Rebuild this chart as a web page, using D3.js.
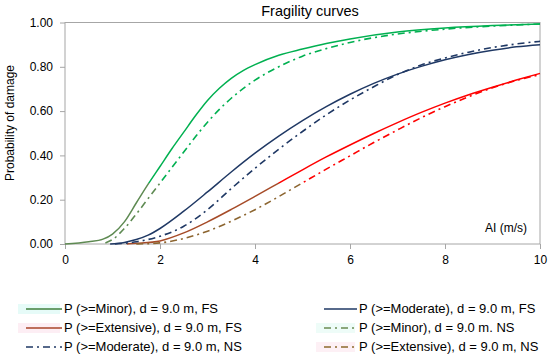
<!DOCTYPE html>
<html>
<head>
<meta charset="utf-8">
<script src="https://cdn.jsdelivr.net/npm/d3@7"></script>
<style>
  body { margin: 0; background: #fff; }
  svg { font-family: 'Liberation Sans', Arial, sans-serif; }
</style>
</head>
<body>
<svg width="550" height="363"></svg>
<script>
// values
const minorFS_x = [0, 0.5, 0.8, 1, 1.25, 1.5, 1.75, 2, 2.25, 2.5, 2.75, 3, 3.25, 3.5, 3.75, 4, 4.5, 5, 5.5, 6, 7, 8, 9, 10]
const minorFS_p = [0, 0.01, 0.022, 0.045, 0.1, 0.185, 0.27, 0.35, 0.43, 0.505, 0.58, 0.648, 0.703, 0.748, 0.783, 0.81, 0.852, 0.88, 0.905, 0.926, 0.957, 0.975, 0.986, 0.993]

const minorNS_x = [0.85, 1, 1.25, 1.5, 1.75, 2, 2.25, 2.5, 2.75, 3, 3.25, 3.5, 4, 4.5, 5, 5.5, 6, 7, 8, 9, 10]
const minorNS_p = [0.005, 0.02, 0.07, 0.135, 0.205, 0.275, 0.345, 0.415, 0.485, 0.55, 0.608, 0.658, 0.74, 0.8, 0.848, 0.882, 0.91, 0.948, 0.97, 0.984, 0.993]

const moderateFS_x = [0.95, 1.25, 1.5, 1.75, 2, 2.5, 3, 3.5, 4, 4.5, 5, 5.5, 6, 6.5, 7, 7.5, 8, 8.5, 9, 9.5, 10]
const moderateFS_p = [0, 0.007, 0.02, 0.04, 0.07, 0.148, 0.235, 0.325, 0.41, 0.487, 0.557, 0.62, 0.676, 0.725, 0.767, 0.802, 0.832, 0.856, 0.875, 0.89, 0.9]

const moderateNS_x = [1.05, 1.5, 2, 2.5, 3, 3.5, 4, 4.5, 5, 5.5, 6, 6.5, 7, 7.5, 8, 8.5, 9, 9.5, 10]
const moderateNS_p = [0, 0.01, 0.035, 0.08, 0.155, 0.25, 0.342, 0.428, 0.508, 0.583, 0.65, 0.71, 0.765, 0.808, 0.84, 0.866, 0.887, 0.903, 0.915]

const extensiveFS_x = [1.3, 1.5, 2, 2.5, 3, 3.5, 4, 4.5, 5, 5.5, 6, 6.5, 7, 7.5, 8, 8.5, 9, 9.5, 10]
const extensiveFS_p = [0, 0.003, 0.014, 0.05, 0.1, 0.156, 0.215, 0.275, 0.335, 0.393, 0.447, 0.499, 0.548, 0.594, 0.636, 0.674, 0.708, 0.74, 0.77]

const extensiveNS_x = [1.5, 2, 2.5, 3, 3.5, 4, 4.5, 5, 5.5, 6, 6.5, 7, 7.5, 8, 8.5, 9, 9.5, 10]
const extensiveNS_p = [0, 0.005, 0.025, 0.058, 0.103, 0.155, 0.214, 0.276, 0.338, 0.398, 0.458, 0.515, 0.57, 0.62, 0.665, 0.705, 0.738, 0.765]

const xTicks = [0, 2, 4, 6, 8, 10]
const yTicks = [0, 0.2, 0.4, 0.6, 0.8, 1.0]

const series = [
  { name: 'P (>=Minor), d = 9.0 m, FS', xs: minorFS_x, ps: minorFS_p, color: '#00b050', low: '#5e8a52', legend: '#3f7f3c', dash: null, tint: '#e6fbf8' },
  { name: 'P (>=Moderate), d = 9.0 m, FS', xs: moderateFS_x, ps: moderateFS_p, color: '#1f3864', low: '#1f3864', legend: '#1f3864', dash: null, tint: null },
  { name: 'P (>=Extensive), d = 9.0 m, FS', xs: extensiveFS_x, ps: extensiveFS_p, color: '#ff0000', low: '#a64b28', legend: '#a8452a', dash: null, tint: '#fdeef4' },
  { name: 'P (>=Minor), d = 9.0 m. NS', xs: minorNS_x, ps: minorNS_p, color: '#00b050', low: '#5e8a52', legend: '#6b8a52', dash: '7,4,2,4', tint: '#eefcf8' },
  { name: 'P (>=Moderate), d = 9.0 m, NS', xs: moderateNS_x, ps: moderateNS_p, color: '#1f3864', low: '#1f3864', legend: '#1f3864', dash: '7,4,2,4', tint: null },
  { name: 'P (>=Extensive), d = 9.0 m, NS', xs: extensiveNS_x, ps: extensiveNS_p, color: '#ff0000', low: '#8c6530', legend: '#8c6a2c', dash: '7,4,2,4', tint: '#fdf0f5' },
]

const plotLeft = 65
const plotRight = 540
const plotTop = 22.5
const plotBottom = 244

const svg = d3.select('svg')

const x = d3.scaleLinear().domain([0, 10]).range([plotLeft, plotRight])
const y = d3.scaleLinear().domain([0, 1]).range([plotBottom, plotTop])

// plot frame
svg.append('rect')
  .attr('x', plotLeft).attr('y', plotTop)
  .attr('width', plotRight - plotLeft).attr('height', plotBottom - plotTop)
  .attr('fill', 'none').attr('stroke', '#a6a6a6').attr('stroke-width', 1)

const xAxis = d3.axisBottom(x).tickValues(xTicks).tickSize(5).tickPadding(6).tickFormat(d3.format('d'))
const yAxis = d3.axisLeft(y).tickValues(yTicks).tickSize(5).tickPadding(7).tickFormat(d3.format('.2f'))

const gx = svg.append('g').attr('transform', `translate(0,${plotBottom})`).call(xAxis)
const gy = svg.append('g').attr('transform', `translate(${plotLeft},0)`).call(yAxis)
for (const g of [gx, gy]) {
  g.select('.domain').remove()
  g.selectAll('line').attr('stroke', '#a6a6a6')
  g.selectAll('text').attr('fill', '#000').style('font-size', '12px').style('font-family', "'Liberation Sans', Arial, sans-serif")
}

// the lower left part of the picture has a shifted hue
const defs = svg.append('defs')
const cut = y(0.275)
series.forEach((s, i) => {
  const grad = defs.append('linearGradient')
    .attr('id', 'g' + i)
    .attr('gradientUnits', 'userSpaceOnUse')
    .attr('x1', 0).attr('x2', 0).attr('y1', 0).attr('y2', 363)
  grad.append('stop').attr('offset', cut / 363).attr('stop-color', s.color)
  grad.append('stop').attr('offset', cut / 363).attr('stop-color', s.low)
})

const line = d3.line()
  .x((d) => x(d[0]))
  .y((d) => y(d[1]))
  .curve(d3.curveMonotoneX)

series.forEach((s, i) => {
  svg.append('path')
    .datum(s.xs.map((v, j) => [v, s.ps[j]]))
    .attr('d', line)
    .attr('fill', 'none')
    .attr('stroke', `url(#g${i})`)
    .attr('stroke-width', s.dash ? 1.6 : 1.5)
    .attr('stroke-dasharray', s.dash)
})

// title and axis labels
svg.append('text')
  .attr('x', 310).attr('y', 16)
  .attr('text-anchor', 'middle')
  .style('font-size', '14.5px')
  .text('Fragility curves')

svg.append('text')
  .attr('transform', 'rotate(-90)')
  .attr('x', -123).attr('y', 14)
  .attr('text-anchor', 'middle')
  .style('font-size', '12px')
  .text('Probability of damage')

svg.append('text')
  .attr('x', 527).attr('y', 232)
  .attr('text-anchor', 'end')
  .style('font-size', '12px')
  .text('AI (m/s)')

// legend, two columns
const legendRows = [313, 332, 351]
const legendCols = [[26, 62], [324, 357]]
series.forEach((s, i) => {
  const col = i % 2
  const row = Math.floor(i / 2)
  const ly = legendRows[row] - 4
  const [x0, x1] = legendCols[col]
  const g = svg.append('g').attr('class', 'legend-item')
  if (s.tint) {
    g.append('rect')
      .attr('x', x0 - 8).attr('y', ly - 5)
      .attr('width', x1 - x0 + 6).attr('height', 10)
      .attr('fill', s.tint)
  }
  g.append('line')
    .attr('x1', x0).attr('x2', x1)
    .attr('y1', ly).attr('y2', ly)
    .attr('stroke', s.legend)
    .attr('stroke-width', s.dash ? 1.6 : 1.5)
    .attr('stroke-dasharray', s.dash)
  g.append('text')
    .attr('x', x1 + 2).attr('y', legendRows[row])
    .style('font-size', '13px')
    .text(s.name)
})
</script>
</body>
</html>
